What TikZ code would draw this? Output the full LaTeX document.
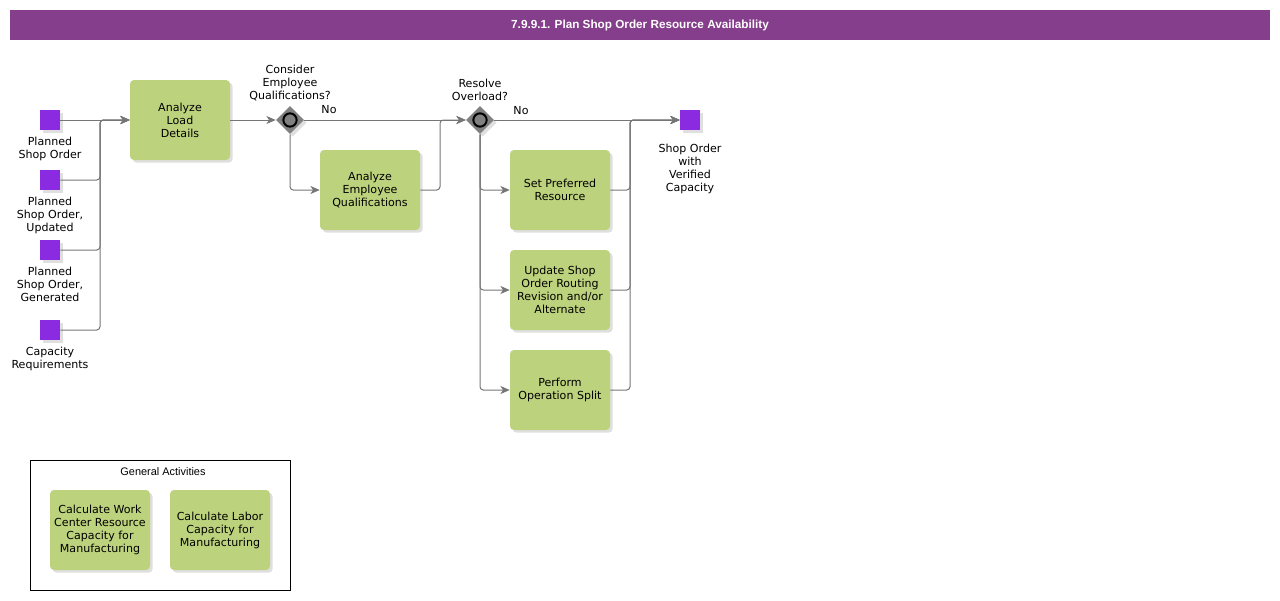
\documentclass[tikz,border=0pt]{standalone}
\usepackage{fontspec}
\setmainfont{DejaVu Sans}
\newfontfamily\arialfont{Liberation Sans}
\usetikzlibrary{shapes.geometric,arrows.meta,shadows}
\definecolor{titlepurple}{RGB}{133,62,140}
\definecolor{taskgreen}{RGB}{189,210,124}
\definecolor{datapurple}{RGB}{138,43,226}
\definecolor{flowgray}{RGB}{118,118,118}
\definecolor{gategray}{RGB}{128,128,128}

\begin{document}
\begin{tikzpicture}[x=0.75pt, y=-0.75pt,
    font=\fontsize{8.3}{9.75}\selectfont,
    shade/.style={drop shadow={shadow xshift=2pt, shadow yshift=-2pt, opacity=0.25}},
    task/.style={rectangle, rounded corners=3pt, fill=taskgreen, minimum width=75pt,
        minimum height=60pt, align=center, inner sep=0pt, shade},
    dataobj/.style={rectangle, fill=datapurple, minimum size=15pt, inner sep=0pt, shade},
    gateway/.style={diamond, fill=gategray, minimum size=21pt, inner sep=0pt, shade,
        path picture={\draw[line width=1.5pt, fill=gategray]
            (path picture bounding box.center) circle (5pt);}},
    txt/.style={align=center, inner sep=0pt},
    flow/.style={draw=flowgray, line width=0.75pt, rounded corners=2.5pt,
        -{Stealth[length=7pt, width=6pt, inset=2pt]}}]
    \useasboundingbox (0,0) rectangle (1280,600);

    \node[fill=titlepurple, text=white, font=\arialfont\bfseries\fontsize{8.8}{10}\selectfont,
        minimum width=945pt, minimum height=22.5pt, inner sep=0pt] (title) at (640,25)
        {7.9.9.1. Plan Shop Order Resource Availability};

    % inputs
    \foreach[count=\i] \y/\t in {120/{Planned\\Shop Order}, 180/{Planned\\Shop Order,\\Updated},
        250/{Planned\\Shop Order,\\Generated}, 330/{Capacity\\Requirements}}
    {
        \node[dataobj] (d\i) at (50,\y) {};
        \node[txt, anchor=north] (d\i lbl) at ([yshift=-5pt]d\i.south) {\t};
    }
    \coordinate (join1) at (100,120);
    \node[task] (load) at (180,120) {Analyze\\Load\\Details};

    \node[gateway] (cons) at (290,120) {};
    \node[txt, anchor=south] (conslbl) at ([yshift=3.5pt]cons.north) {Consider\\Employee\\Qualifications?};
    \node[txt] (consno) at (329,110) {No};
    \node[task] (empq) at (370,190) {Analyze\\Employee\\Qualifications};
    \coordinate (join2) at (440,120);

    \node[gateway] (over) at (480,120) {};
    \node[txt, anchor=south] (overlbl) at ([yshift=3.5pt]over.north) {Resolve\\Overload?};
    \node[txt] (overno) at (521,111) {No};
    \node[task] (pref) at (560,190) {Set Preferred\\Resource};
    \node[task] (route) at (560,290) {Update Shop\\Order Routing\\Revision and/or\\Alternate};
    \node[task] (split) at (560,390) {Perform\\Operation Split};
    \coordinate (join3) at (630,120);

    \node[dataobj] (out) at (690,120) {};
    \node[txt, anchor=north] (outlbl) at ([yshift=-10pt]out.south) {Shop Order\\with\\Verified\\Capacity};

    \draw[flow] (d1) -- (load);
    \foreach \i in {2,3,4}
        \draw[flow] (d\i.east) -| (join1) -- (load.west);
    \draw[flow] (load) -- (cons);
    \draw[flow] (cons.east) -- (over.west);
    \draw[flow] (cons.south) |- (empq.west);
    \draw[flow] (empq.east) -| (join2) -- (over.west);
    \draw[flow] (over.east) -- (out.west);
    \foreach \n in {pref,route,split}
    {
        \draw[flow] (over.south) |- (\n.west);
        \draw[flow] (\n.east) -| (join3) -- (out.west);
    }

    % general activities
    \node[draw=black, line width=0.75pt, minimum width=195pt, minimum height=97.5pt,
        inner sep=0pt] (general) at (160,525) {};
    \node[txt, font=\arialfont\fontsize{8.2}{10}\selectfont] (generallbl) at (163,472) {General Activities};
    \node[task] (workcap) at (100,530) {Calculate Work\\Center Resource\\Capacity for\\Manufacturing};
    \node[task] (laborcap) at (220,530) {Calculate Labor\\Capacity for\\Manufacturing};
\end{tikzpicture}
\end{document}
